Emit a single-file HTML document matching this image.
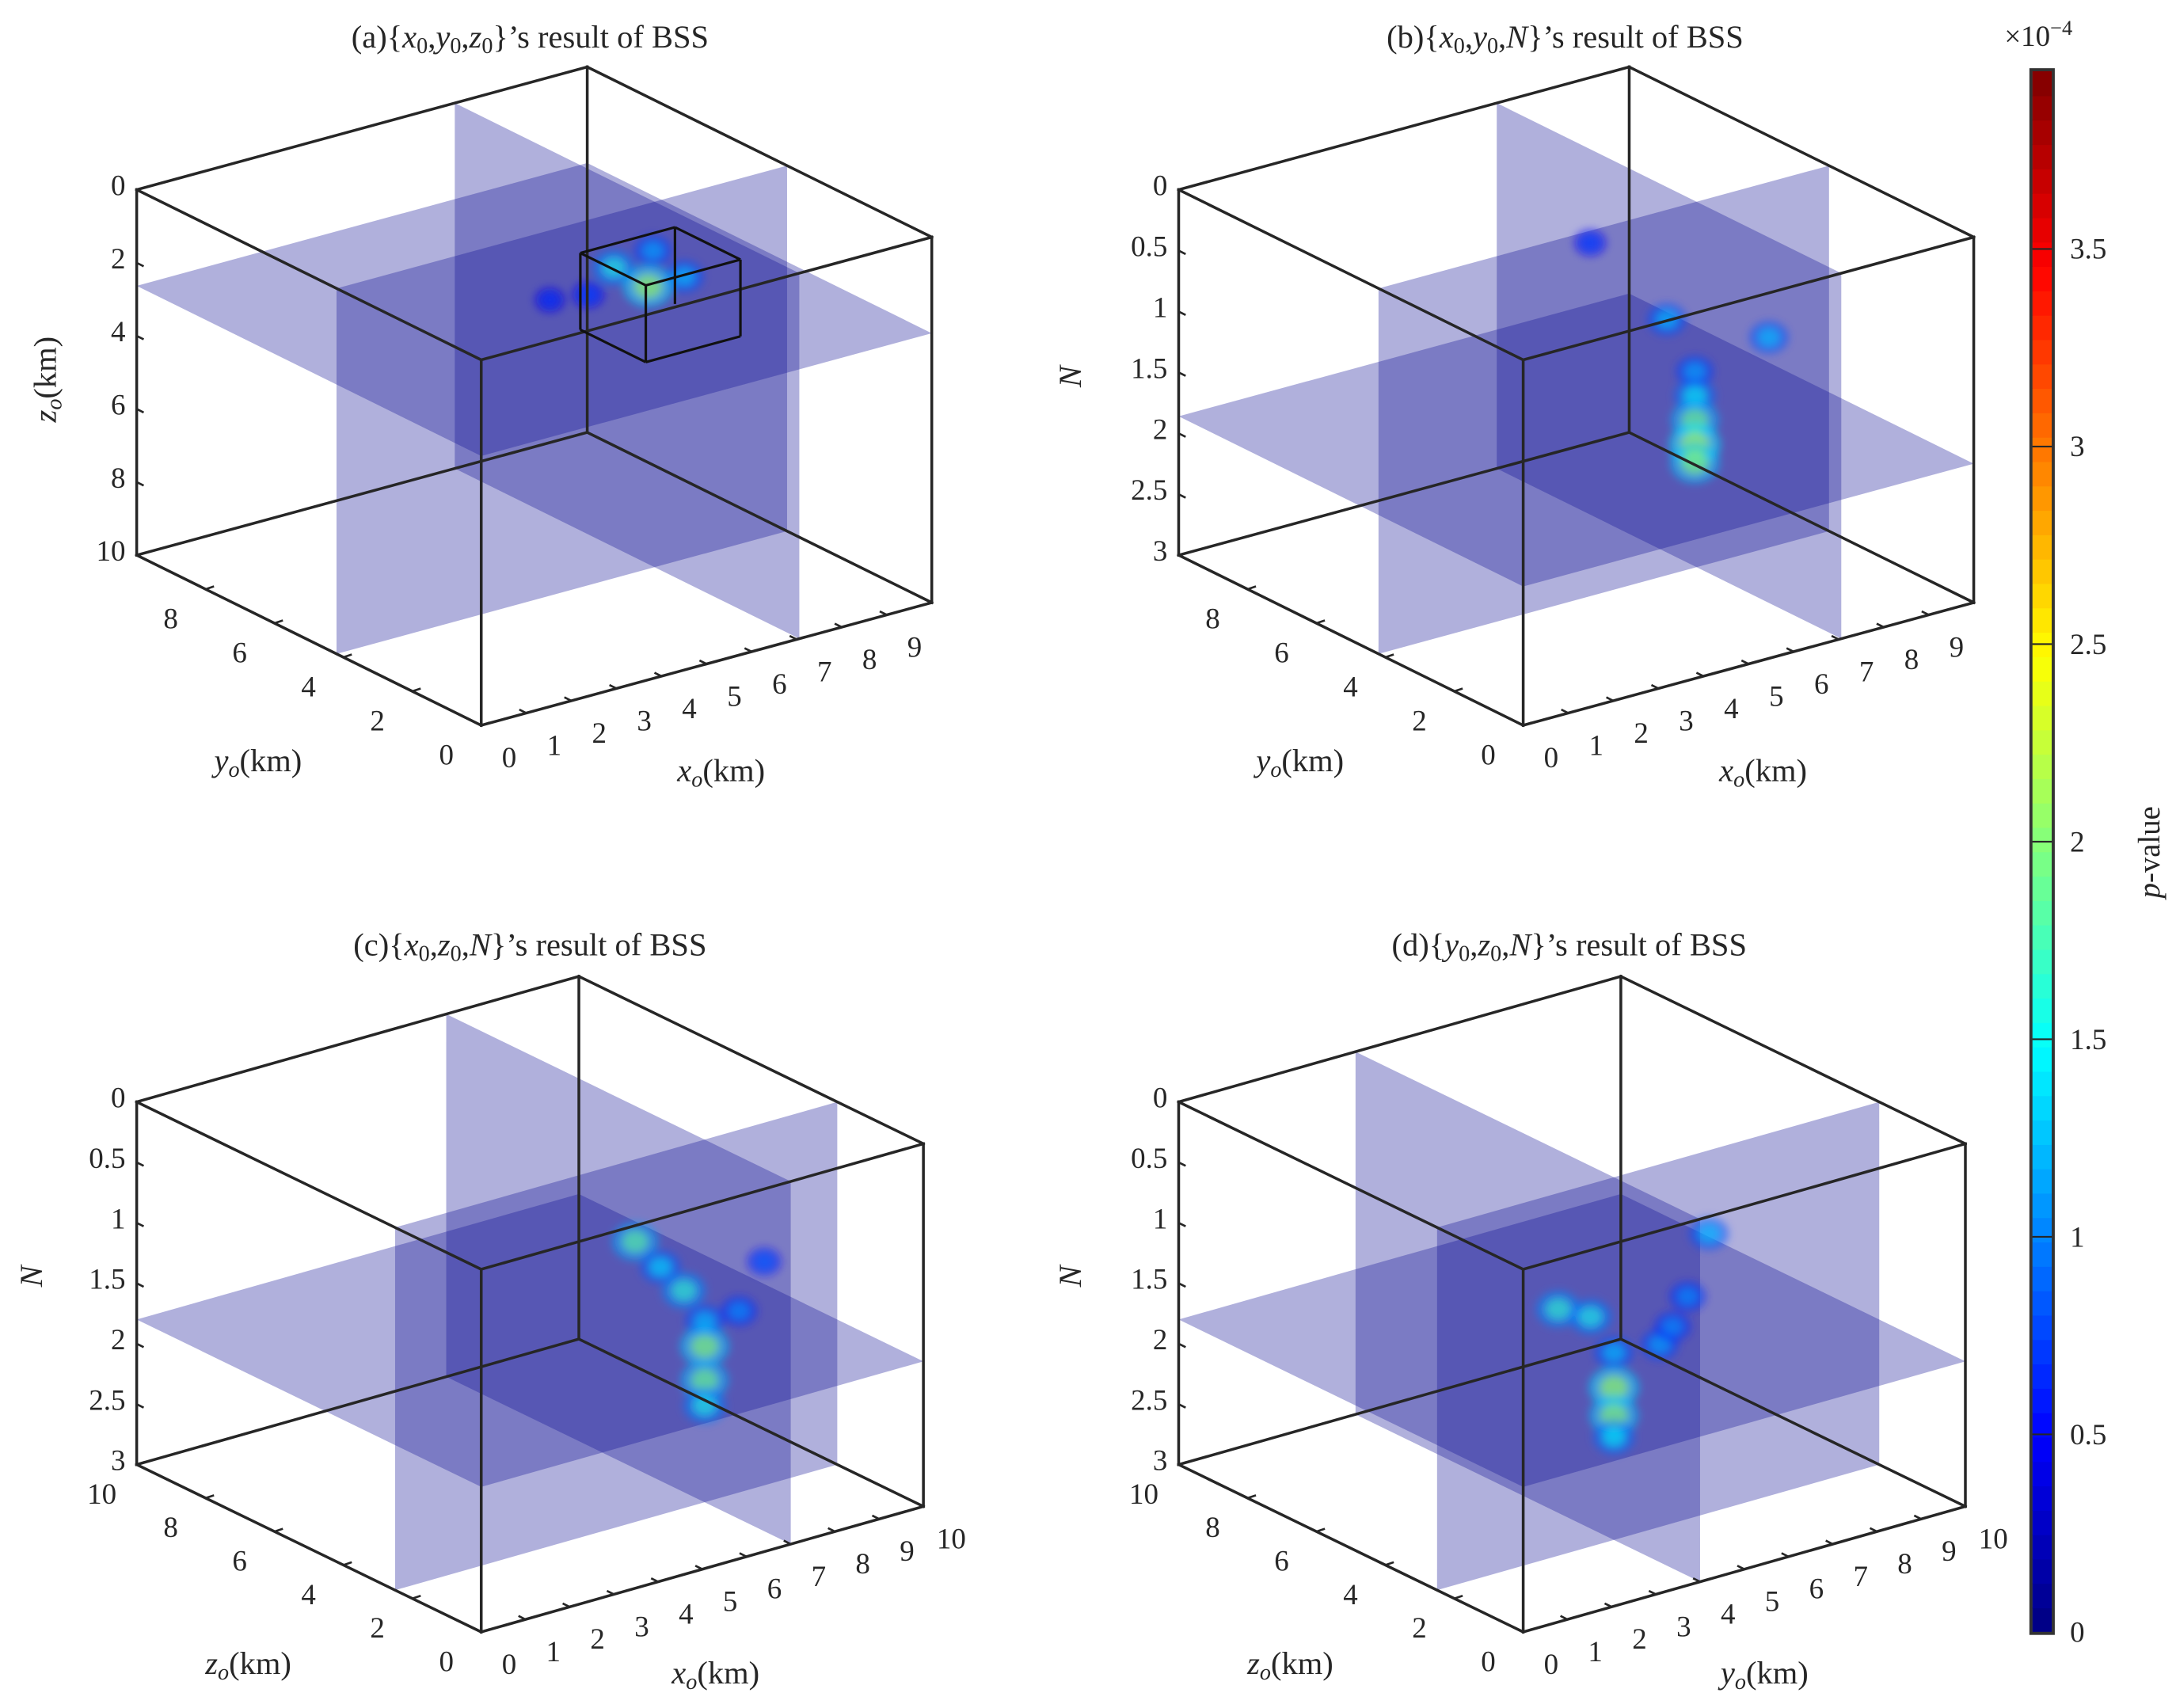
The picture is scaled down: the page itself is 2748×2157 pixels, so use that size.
<!DOCTYPE html>
<html><head><meta charset="utf-8"><style>
html,body{margin:0;padding:0;background:#fff}
svg{display:block}
svg text{font-family:"Liberation Serif","DejaVu Serif",serif !important;fill:#262626}
</style></head><body>
<svg id="fig" width="2748" height="2157" viewBox="0 0 1560 1224.5" xmlns="http://www.w3.org/2000/svg" font-family="Liberation Serif, serif">
<defs>
<filter id="blur" x="-50%" y="-50%" width="200%" height="200%"><feGaussianBlur stdDeviation="3"/></filter>
</defs>
<g id="root"></g>
</svg>
<script>
// ---------- data ----------
const cbTicks = [0, 0.5, 1, 1.5, 2, 2.5, 3, 3.5];
const cbMax = 3.95;
const zTicksKm = [0, 2, 4, 6, 8, 10];
const nTicks = [0, 0.5, 1, 1.5, 2, 2.5, 3];
const xTicksAB = [0,1,2,3,4,5,6,7,8,9];
const yTicksAB = [0,2,4,6,8];
const xTicksCD = [0,1,2,3,4,5,6,7,8,9,10];
const yTicksCD = [0,2,4,6,8,10];
// slice planes: [constX, constY, constZ]
const slicesA = [7.06, 4.2, 2.63];
const slicesB = [7.06, 4.2, 1.86];
const slicesC = [7.0, 2.5, 1.8];
const slicesD = [4.0, 2.5, 1.8];
// blobs: x, y, vertical value, p-value(x1e-4)
const blobsA = [[5.5,5.2,2.63,0.7],[6.2,5.0,2.63,0.8],[8.1,4.7,2.63,1.3],[8.4,6.0,2.63,1.2],[7.35,5.76,2.63,1.6],[7.3,4.7,2.63,2.2]];
const blobsB = [[4.7,4.2,0.1,0.8],[6.4,4.2,0.9,1.3],[7.06,2.1,0.82,1.3],[7.06,4.25,1.4,1.2],[7.06,4.25,1.6,1.5],[7.06,4.25,1.8,2.0],[7.06,4.25,2.0,2.3],[7.06,4.25,2.15,2.1]];
const blobsC = [[5.43,2.5,0.68,1.9],[6.0,2.5,0.95,1.4],[6.53,2.5,1.2,1.7],[7.0,1.5,1.28,1.1],[7.0,0.77,0.77,0.9],[7.0,2.5,1.5,1.3],[7.0,2.5,1.71,2.1],[7.0,2.5,1.99,2.0],[7.0,2.5,2.2,1.6]];
const blobsD = [[2.74,2.5,0.96,1.7],[3.47,2.5,1.1,1.6],[6.15,2.5,0.69,1.3],[4.0,1.17,1.2,1.2],[4.0,0.36,0.69,1.1],[4.0,0.8,1.0,1.1],[4.0,2.5,1.45,1.3],[4.0,2.5,1.74,2.2],[4.0,2.5,1.97,2.1],[4.0,2.5,2.15,1.5]];
const cubeA = [6.1, 8.2, 3.2, 5.1, 1.5, 3.6];

// ---------- helpers ----------
const NS = "http://www.w3.org/2000/svg";
const root = document.getElementById('root');
function mk(tag, attrs, parent){ const e=document.createElementNS(NS,tag); for(const k in attrs) e.setAttribute(k,attrs[k]); (parent||root).appendChild(e); return e; }
function jet(t){ t=Math.max(0,Math.min(1,t)); const c=v=>Math.round(255*Math.max(0,Math.min(1,1.5-Math.abs(4*t-v)))); return `rgb(${c(3)},${c(2)},${c(1)})`; }

const panels = [
 {id:'a', F:[345,520], ex:[323,-88], ey:[-247,-122], ez:262, xr:10, yr:10, vMax:10, vTicks:zTicksKm, xt:xTicksAB, yt:yTicksAB, sl:slicesA, bl:blobsA,
  title:['(a){','x','0',',','y','0',',','z','0','}’s result of BSS'], vlab:'z', xlab:'x', ylab:'y', tx:380, ty:34},
 {id:'b', F:[1092,520], ex:[323,-88], ey:[-247,-122], ez:262, xr:10, yr:10, vMax:3, vTicks:nTicks, xt:xTicksAB, yt:yTicksAB, sl:slicesB, bl:blobsB,
  title:['(b){','x','0',',','y','0',',','N','','}’s result of BSS'], vlab:'N', xlab:'x', ylab:'y', tx:1122, ty:34},
 {id:'c', F:[345,1170], ex:[317,-90], ey:[-247,-120], ez:260, xr:10, yr:10, vMax:3, vTicks:nTicks, xt:xTicksCD, yt:yTicksCD, sl:slicesC, bl:blobsC,
  title:['(c){','x','0',',','z','0',',','N','','}’s result of BSS'], vlab:'N', xlab:'x', ylab:'z', tx:380, ty:685},
 {id:'d', F:[1092,1170], ex:[317,-90], ey:[-247,-120], ez:260, xr:10, yr:10, vMax:3, vTicks:nTicks, xt:xTicksCD, yt:yTicksCD, sl:slicesD, bl:blobsD,
  title:['(d){','y','0',',','z','0',',','N','','}’s result of BSS'], vlab:'N', xlab:'y', ylab:'z', tx:1125, ty:685},
];

panels.forEach(p=>{
  const g = mk('g',{});
  
  
  const P=(x,y,v)=>{ const u=x/p.xr, b=y/p.yr, w=(p.vMax-v)/p.vMax;
    return [p.F[0]+u*p.ex[0]+b*p.ey[0], p.F[1]+u*p.ex[1]+b*p.ey[1]-w*p.ez]; };
  const poly=(pts,attrs,name)=>{ const e=mk('polygon',Object.assign({points:pts.map(q=>q.join(',')).join(' ')},attrs),g);
      return e; };
  const X=p.xr, Y=p.yr, V=p.vMax;
  const pf={fill:'rgb(15,15,149)','fill-opacity':0.33};
  poly([P(p.sl[0],0,0),P(p.sl[0],Y,0),P(p.sl[0],Y,V),P(p.sl[0],0,V)],pf,'slice-const-x');
  poly([P(0,p.sl[1],0),P(X,p.sl[1],0),P(X,p.sl[1],V),P(0,p.sl[1],V)],pf,'slice-const-y');
  poly([P(0,0,p.sl[2]),P(X,0,p.sl[2]),P(X,Y,p.sl[2]),P(0,Y,p.sl[2])],pf,'slice-horizontal');
  const bg = mk('g',{filter:'url(#blur)'},g);
   
  p.bl.forEach(d=>{ const [sx,sy]=P(d[0],d[1],d[2]); const t=d[3]/cbMax; const r=7+d[3]*4;
    const o=mk('ellipse',{cx:sx,cy:sy,rx:r*1.15,ry:r*0.95,fill:jet(t*0.6),'fill-opacity':0.55},bg);
     
    const i=mk('ellipse',{cx:sx,cy:sy,rx:r*0.65,ry:r*0.55,fill:jet(t),'fill-opacity':0.55},bg);
     
  });
  const C=[[0,0,V],[X,0,V],[X,Y,V],[0,Y,V],[0,0,0],[X,0,0],[X,Y,0],[0,Y,0]].map(c=>P(...c));
  const E=[[0,1],[1,2],[2,3],[3,0],[4,5],[5,6],[6,7],[7,4],[0,4],[1,5],[2,6],[3,7]];
  E.forEach(e=>{ const l=mk('line',{x1:C[e[0]][0],y1:C[e[0]][1],x2:C[e[1]][0],y2:C[e[1]][1],stroke:'#262626','stroke-width':2,'stroke-linecap':'square'},g);
      });
  if(p.id==='a'){ const c=cubeA; const Q=[[c[0],c[2],c[5]],[c[1],c[2],c[5]],[c[1],c[3],c[5]],[c[0],c[3],c[5]],[c[0],c[2],c[4]],[c[1],c[2],c[4]],[c[1],c[3],c[4]],[c[0],c[3],c[4]]].map(q=>P(...q));
    [[4,5],[5,6],[6,7],[7,4],[0,4],[1,5],[3,7],[0,1],[0,3],[2,6]].forEach(e=>{ const l=mk('line',{x1:Q[e[0]][0],y1:Q[e[0]][1],x2:Q[e[1]][0],y2:Q[e[1]][1],stroke:'#111','stroke-width':1.8},g);
        }); }
  p.vTicks.forEach(v=>{ const [sx,sy]=P(0,Y,v);
    const l=mk('line',{x1:sx,y1:sy,x2:sx+5,y2:sy+2.5,stroke:'#262626','stroke-width':1.5},g);
     
    const t=mk('text',{x:sx-8,y:sy+4,'font-size':21,'text-anchor':'end'},g); t.textContent=String(v);
      });
  p.xt.forEach(v=>{ const [sx,sy]=P(v,0,V);
    const l=mk('line',{x1:sx,y1:sy,x2:sx-5,y2:sy-2.5,stroke:'#262626','stroke-width':1.5},g);
     
    const t=mk('text',{x:sx+20,y:sy+30,'font-size':21,'text-anchor':'middle'},g); t.textContent=String(v);
      });
  p.yt.forEach(v=>{ const [sx,sy]=P(0,v,V);
    const l=mk('line',{x1:sx,y1:sy,x2:sx+6,y2:sy-2,stroke:'#262626','stroke-width':1.5},g);
     
    const t=mk('text',{x:sx-25,y:sy+28,'font-size':21,'text-anchor':'middle'},g); t.textContent=String(v);
      });
  const tt=mk('text',{x:p.tx,y:p.ty,'font-size':23,'text-anchor':'middle'},g);
   
  p.title.forEach((s,i)=>{ const ts=mk('tspan',{},tt); ts.textContent=s;
    if(i===1||i===4||i===7){ ts.setAttribute('font-style','italic'); }
    if(i===2||i===5||i===8){ ts.setAttribute('font-size','16'); ts.setAttribute('dy','4'); }
    if(i===3||i===6||i===9){ ts.setAttribute('dy', (p.title[i-1]==='')?'0':'-4'); } });
  const lab=(x,y,sym,rot,name)=>{ const t=mk('text',{x:x,y:y,'font-size':23,'text-anchor':'middle'},g);
    if(rot) t.setAttribute('transform',`rotate(-90 ${x} ${y})`);
    const a=mk('tspan',{'font-style':'italic'},t); a.textContent=sym;
    if(sym!=='N'){ const b=mk('tspan',{'font-style':'italic','font-size':16,dy:4},t); b.textContent='o';
      const c=mk('tspan',{dy:-4},t); c.textContent='(km)'; }
      };
  const off = p.id==='a'||p.id==='b' ? 0 : 650;
  const ox = p.id==='a'||p.id==='c' ? 0 : 747;
  if(p.vlab==='z') lab(40+ox,272+off,'z',true,'vertical-axis-title'); else lab((p.id==='c'?30:775),(p.id==='b'?270:915),'N',true,'vertical-axis-title');
  lab((p.id==='c'||p.id==='d'?178:185)+ox,(off?1200:553),p.ylab,false,'y-axis-title');
  lab((p.id==='c'?513:p.id==='d'?1265:517+ox),(off?1207:560),p.xlab,false,'x-axis-title');
});

// ---------- colorbar ----------
const cb = mk('g',{});
 
const cbX=1457, cbW=14, cbTop=51, cbBot=1170;
const cbY=v=>cbBot-(v/cbMax)*(cbBot-cbTop);
const nLev=64;
for(let i=0;i<nLev;i++){ const v0=i*cbMax/nLev, v1=(i+1)*cbMax/nLev;
  const r=mk('rect',{x:cbX,y:cbY(v1),width:cbW,height:cbY(v0)-cbY(v1)+0.5,fill:jet((i+0.5)/nLev)},cb);
    }
const fr=mk('rect',{x:cbX-1,y:cbTop-1,width:cbW+2,height:cbBot-cbTop+2,fill:'none',stroke:'#333','stroke-width':2.2},cb);
 
cbTicks.forEach(v=>{ const y=cbY(v);
  if(v>0){ const l=mk('line',{x1:cbX,y1:y,x2:cbX+cbW,y2:y,stroke:'#262626','stroke-width':1.2},cb);
      }
  const t=mk('text',{x:cbX+cbW+13,y:y+7,'font-size':21},cb); t.textContent=String(v);
    });
const ex=mk('text',{x:1437,y:33,'font-size':21},cb);
 
const e1=mk('tspan',{},ex); e1.textContent='×10'; const e2=mk('tspan',{'font-size':15,dy:-8},ex); e2.textContent='−4';
const pv=mk('text',{x:1548,y:611,'font-size':22,'text-anchor':'middle',transform:'rotate(-90 1548 611)'},cb);
 
const p1=mk('tspan',{'font-style':'italic'},pv); p1.textContent='p'; const p2=mk('tspan',{},pv); p2.textContent='-value';
</script>
</body></html>
